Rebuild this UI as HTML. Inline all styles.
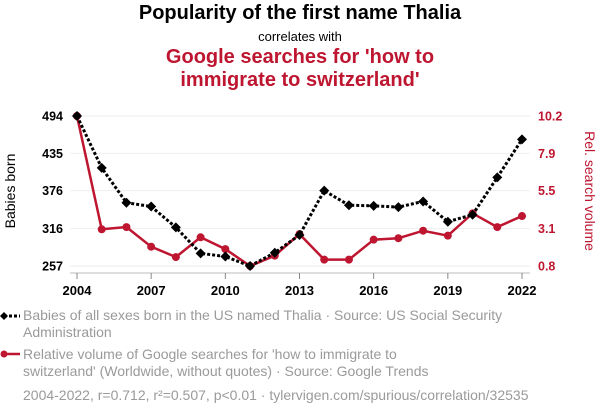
<!DOCTYPE html>
<html><head><meta charset="utf-8"><style>
body{margin:0;width:600px;height:414px;background:#fff;font-family:"Liberation Sans",sans-serif;overflow:hidden;position:relative}
.t{position:absolute;left:0;width:600px;text-align:center}
.leg{position:absolute;left:23px;color:#9a9a9a;font-size:14px;line-height:17px;width:570px;white-space:nowrap}
</style></head><body>
<div class="t" style="top:2px;font-size:20px;font-weight:bold;color:#000">Popularity of the first name Thalia</div>
<div class="t" style="top:29px;font-size:13px;color:#000">correlates with</div>
<div class="t" style="top:46px;font-size:20px;font-weight:bold;color:#be1630;line-height:23px">Google searches for 'how to<br>immigrate to switzerland'</div>
<svg id="c" width="600" height="414" style="position:absolute;left:0;top:0"></svg>
<div class="leg" style="top:307px">Babies of all sexes born in the US named Thalia · Source: US Social Security<br>Administration</div>
<div class="leg" style="top:346px">Relative volume of Google searches for 'how to immigrate to<br>switzerland' (Worldwide, without quotes) · Source: Google Trends</div>
<div class="leg" style="top:387px">2004-2022, r=0.712, r²=0.507, p&lt;0.01 · tylervigen.com/spurious/correlation/32535</div>
<script>
const years=[2004,2005,2006,2007,2008,2009,2010,2011,2012,2013,2014,2015,2016,2017,2018,2019,2020,2021,2022];
const babies=[494,412,357,351,318,277,272,257,278,306,376,353,352,350,359,327,338,397,457];
const searches=[10.2,3.1,3.24,2.01,1.36,2.6,1.86,0.8,1.45,2.8,1.2,1.2,2.45,2.54,3.01,2.7,4.1,3.24,3.93];
const leftTicks=[257,316,376,435,494];
const rightTicks=["0.8","3.1","5.5","7.9","10.2"];
const xTicks=[2004,2007,2010,2013,2016,2019,2022];
const NS="http://www.w3.org/2000/svg",svg=document.getElementById('c');
const X0=77,X1=522,YT=116,YB=266;
const x=v=>X0+(v-2004)/(2022-2004)*(X1-X0);
const yL=v=>YB-(v-257)/(494-257)*(YB-YT);
const yR=v=>YB-(v-0.8)/(10.2-0.8)*(YB-YT);
function mk(t,a,p){const e=document.createElementNS(NS,t);for(const k in a)e.setAttribute(k,a[k]);(p||svg).appendChild(e);return e;}
leftTicks.forEach((v,i)=>{
 const g=mk('line',{x1:70,x2:530,y1:yL(v),y2:yL(v),stroke:'#eee','stroke-width':1});
 
 
 const t=mk('text',{x:63,y:yL(v)+4.5,'text-anchor':'end','font-size':12.5,'font-weight':'bold',fill:'#000'});t.textContent=v;
 
 
 const r=mk('text',{x:538,y:yL(v)+4.5,'font-size':12.5,'font-weight':'bold',fill:'#be1630'});r.textContent=rightTicks[i];
 
 
});
mk('line',{x1:70,x2:530,y1:273,y2:273,stroke:'#bbb'});
xTicks.forEach(v=>{
 mk('line',{x1:x(v),x2:x(v),y1:273,y2:279,stroke:'#888'});
 const t=mk('text',{x:x(v),y:295,'text-anchor':'middle','font-size':13,'font-weight':'bold',fill:'#000'});t.textContent=v;
 
 
});
let a=mk('text',{transform:'translate(15,191) rotate(-90)','text-anchor':'middle','font-size':14,fill:'#000'});a.textContent='Babies born';


a=mk('text',{transform:'translate(585,191) rotate(90)','text-anchor':'middle','font-size':14,fill:'#be1630'});a.textContent='Rel. search volume';


const rl=mk('polyline',{points:searches.map((v,i)=>x(years[i])+','+yR(v)).join(' '),fill:'none',stroke:'#be1630','stroke-width':2.5});


searches.forEach((v,i)=>{const c=mk('circle',{cx:x(years[i]),cy:yR(v),r:4,fill:'#be1630'});
 
 });
const bl=mk('polyline',{points:babies.map((v,i)=>x(years[i])+','+yL(v)).join(' '),fill:'none',stroke:'#000','stroke-width':3,'stroke-dasharray':'3,2'});


babies.forEach((v,i)=>{const cx=x(years[i]),cy=yL(v);const d=mk('polygon',{points:`${cx},${cy-5} ${cx+5},${cy} ${cx},${cy+5} ${cx-5},${cy}`,fill:'#000'});
 
 });
mk('line',{x1:4,x2:20,y1:316,y2:316,stroke:'#000','stroke-width':3,'stroke-dasharray':'3,2'});
mk('polygon',{points:'4,312 8,316 4,320 0,316',fill:'#000'});
mk('line',{x1:4,x2:20,y1:354,y2:354,stroke:'#be1630','stroke-width':2.5});
mk('circle',{cx:4,cy:354,r:3.5,fill:'#be1630'});
</script>
</body></html>
